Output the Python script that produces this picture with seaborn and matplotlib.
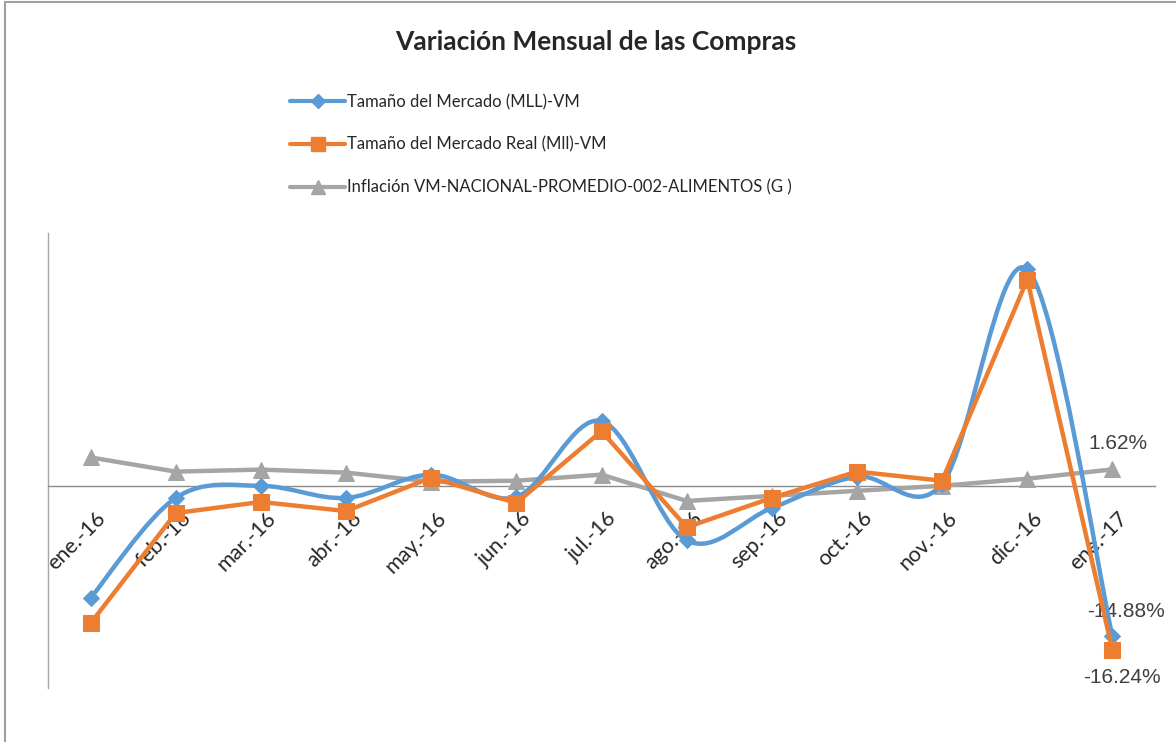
import numpy as np
import pandas as pd
import seaborn as sns
import matplotlib
matplotlib.use("Agg")
import matplotlib.pyplot as plt
import matplotlib.transforms as mtransforms
from matplotlib.path import Path
from matplotlib.patches import PathPatch, Rectangle
from matplotlib.lines import Line2D

# data (monthly variation, %)
months = ["ene.-16", "feb.-16", "mar.-16", "abr.-16", "may.-16", "jun.-16", "jul.-16",
          "ago.-16", "sep.-16", "oct.-16", "nov.-16", "dic.-16", "ene.-17"]
mercado = [-11.1, -1.2, 0.0, -1.2, 1.1, -1.1, 6.4, -5.4, -2.2, 0.9, 0.2, 21.4, -14.88]
mercado_real = [-13.6, -2.7, -1.6, -2.5, 0.8, -1.7, 5.4, -4.1, -1.2, 1.4, 0.5, 20.4, -16.24]
inflacion = [2.8, 1.4, 1.6, 1.3, 0.4, 0.5, 1.1, -1.5, -1.0, -0.5, 0.0, 0.7, 1.62]

names = ["Tamaño del Mercado (MLL)-VM",
         "Tamaño del Mercado Real (Mll)-VM",
         "Inflación VM-NACIONAL-PROMEDIO-002-ALIMENTOS (G )"]
BLUE, ORANGE, GRAY = "#5B9BD5", "#ED7D31", "#A5A5A5"
UI_FONT = ["Lato", "DejaVu Sans"]

sns.set_style("white")
plt.rcParams["font.family"] = ["Liberation Sans", "DejaVu Sans"]

fig = plt.figure(figsize=(11.76, 7.42), dpi=100)
ax = fig.add_axes([48 / 1176, 1 - 688 / 742, (1155 - 48) / 1176, (688 - 233) / 742])

x = np.arange(len(months))
df = pd.DataFrame({"x": x, "mercado": mercado, "real": mercado_real, "infl": inflacion})


# smooth curve (Excel style) as bezier path through the data points
def smooth_path(xs, ys):
    pts = np.column_stack([xs, ys]).astype(float)
    ext = np.vstack([pts[0], pts, pts[-1]])
    verts = [pts[0]]
    codes = [Path.MOVETO]
    for i in range(len(pts) - 1):
        p0, p1, p2, p3 = ext[i], ext[i + 1], ext[i + 2], ext[i + 3]
        c1 = p1 + (p2 - p0) / 6
        c2 = p2 - (p3 - p1) / 6
        verts += [c1, c2, p2]
        codes += [Path.CURVE4] * 3
    return Path(verts, codes)


sns.lineplot(data=df, x="x", y="infl", ax=ax, color=GRAY, lw=3.2,
             marker="^", markersize=11, markeredgecolor=GRAY, zorder=3)
ax.add_patch(PathPatch(smooth_path(df["x"], df["mercado"]), fill=False,
                       edgecolor=BLUE, lw=3.2, zorder=4))
sns.lineplot(data=df, x="x", y="mercado", ax=ax, color=BLUE, lw=0, linestyle="",
             marker="D", markersize=8, markeredgecolor=BLUE, zorder=5)
sns.lineplot(data=df, x="x", y="real", ax=ax, color=ORANGE, lw=3.2,
             marker="s", markersize=11, markeredgecolor=ORANGE, zorder=6)

ax.set_xlim(-0.5, len(months) - 0.5)
ax.set_ylim(-20, 25)
ax.set_xlabel("")
ax.set_ylabel("")

# zero line as bottom spine (set before tick labels, it resets ticks)
ax.spines["bottom"].set_position(("data", 0))
for s in ["top", "right"]:
    ax.spines[s].set_visible(False)
ax.spines["bottom"].set_color("#8C8C8C")
ax.spines["left"].set_color("#A6A6A6")
ax.spines["bottom"].set_linewidth(1.0)
ax.spines["left"].set_linewidth(1.0)

ax.set_yticks([])
ax.set_xticks(x)
ax.set_xticklabels(months, rotation=45, ha="right", va="top", rotation_mode="anchor",
                   fontsize=15.5, family=UI_FONT)
ax.tick_params(axis="x", length=0, pad=16)
shift = mtransforms.ScaledTranslation(5 / 100, 0, fig.dpi_scale_trans)
for lbl in ax.get_xticklabels():
    lbl.set_transform(lbl.get_transform() + shift)

# data labels on the last point
last = len(months) - 1
ax.annotate(f"{inflacion[-1]:.2f}%", (last, inflacion[-1]), xytext=(4, 19),
            textcoords="offset points", ha="center", va="center", fontsize=15, color="#404040")
ax.annotate(f"{mercado[-1]:.2f}%", (last, mercado[-1]), xytext=(10, 18),
            textcoords="offset points", ha="center", va="center", fontsize=15, color="#404040")
ax.annotate(f"{mercado_real[-1]:.2f}%", (last, mercado_real[-1]), xytext=(7, -20),
            textcoords="offset points", ha="center", va="center", fontsize=15, color="#404040")

fig.text(596 / 1176, 1 - 42 / 742, "Variación Mensual de las Compras", ha="center", va="center",
         fontsize=19, fontweight="bold", family=UI_FONT)

handles = [Line2D([], [], color=BLUE, lw=3, marker="D", markersize=7),
           Line2D([], [], color=ORANGE, lw=3, marker="s", markersize=10),
           Line2D([], [], color=GRAY, lw=3, marker="^", markersize=10)]
fig.legend(handles, names, loc="upper left", bbox_to_anchor=(275 / 1176, 1 - 79 / 742),
           frameon=False, handlelength=3.3, handletextpad=0.1, labelspacing=1.6,
           prop={"family": UI_FONT, "size": 12})

# outer chart border
fig.patches.append(Rectangle((5 / 1176, -0.01), 1.1, 1 - 2 / 742 + 0.01, transform=fig.transFigure,
                             fill=False, edgecolor="#A0A0A0", lw=1.5))

fig.savefig("out.png", dpi=100)
